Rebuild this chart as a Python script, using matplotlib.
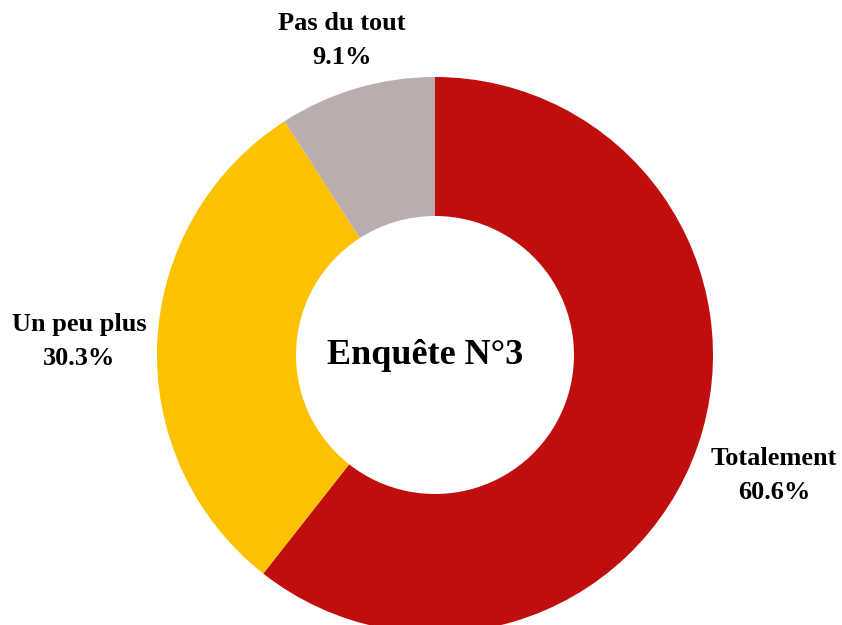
import numpy as np
import matplotlib
matplotlib.use("Agg")
import matplotlib.pyplot as plt

categories = ["Totalement", "Un peu plus", "Pas du tout"]
values = [60.6, 30.3, 9.1]
colors = ["#C00E0E", "#FCC200", "#BBADAD"]
center_label = "Enquête N°3"

plt.rcParams['font.family'] = ['Liberation Serif', 'DejaVu Serif']

W, H = 842, 625
fig = plt.figure(figsize=(W / 100, H / 100), dpi=100)
ax = fig.add_axes([0, 0, 1, 1])

cx, cy, R = 435, H - 355, 278
wedges, _ = ax.pie(values, colors=colors, startangle=90, counterclock=False,
                   center=(cx, cy), radius=R,
                   wedgeprops=dict(width=R * 0.5, edgecolor='none'), frame=True)
ax.set_xlim(0, W)
ax.set_ylim(0, H)
ax.set_aspect('equal')
ax.axis('off')

label_dist = [1.29, 1.28, 1.19]
for w, cat, v, d in zip(wedges, categories, values, label_dist):
    ang = np.deg2rad((w.theta1 + w.theta2) / 2)
    x = cx + d * R * np.cos(ang)
    y = cy + d * R * np.sin(ang) - 3
    ax.text(x, y, f"{cat}\n{v:.1f}%", ha='center', va='center',
            fontsize=19, fontweight='bold', linespacing=1.6)

ax.text(cx - 10, cy, center_label, ha='center', va='center',
        fontsize=26, fontweight='bold')

fig.savefig("out.png", dpi=100)
